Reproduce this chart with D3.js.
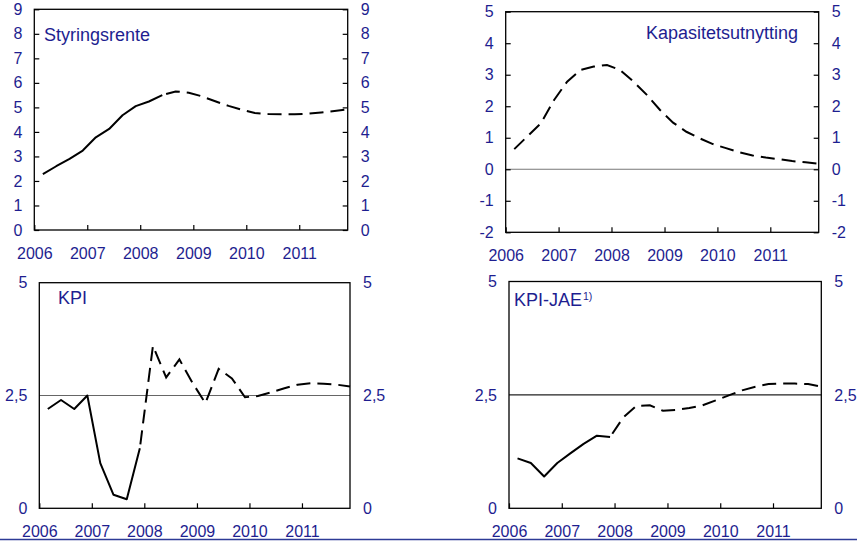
<!DOCTYPE html>
<html>
<head>
<meta charset="utf-8">
<script src="https://cdn.jsdelivr.net/npm/d3@7"></script>
<style>
  html, body { margin: 0; padding: 0; background: #fff; }
  svg { display: block; }
</style>
</head>
<body>
<script>
// quarterly figures 2006 Q1 - 2011 Q4, history drawn solid, projections dashed
const years = [2006, 2007, 2008, 2009, 2010, 2011];

const styringsrente = [2.28, 2.6, 2.9, 3.24, 3.78, 4.12, 4.68, 5.05, 5.24, 5.5, 5.65, 5.6,
                       5.45, 5.25, 5.06, 4.9, 4.77, 4.73, 4.72, 4.72, 4.74, 4.79, 4.85, 4.92];
const kapasitetsutnytting = [0.64, 1.05, 1.46, 2.2, 2.78, 3.15, 3.26, 3.31, 3.15, 2.78, 2.36, 1.88,
                             1.48, 1.19, 0.98, 0.8, 0.67, 0.54, 0.44, 0.37, 0.32, 0.26, 0.22, 0.18];
const kpi = [2.2, 2.4, 2.2, 2.5, 1.0, 0.3, 0.2, 1.33, 3.6, 2.9, 3.3, 2.78,
             2.33, 3.09, 2.88, 2.46, 2.49, 2.57, 2.66, 2.74, 2.77, 2.76, 2.74, 2.7];
const kpiJae = [1.1, 1.0, 0.7, 1.0, 1.21, 1.42, 1.6, 1.57, 2.0, 2.26, 2.27, 2.15,
                2.17, 2.21, 2.27, 2.38, 2.49, 2.6, 2.68, 2.74, 2.75, 2.75, 2.74, 2.68];

// index of last historical quarter in each series (-1 = all projection)
const lastHistory = { styringsrente: 9, kapasitetsutnytting: -1, kpi: 7, kpiJae: 7 };

const ticksOneToNine = [0, 1, 2, 3, 4, 5, 6, 7, 8, 9];
const ticksCapacity = [-2, -1, 0, 1, 2, 3, 4, 5];
const ticksInflation = [0, 2.5, 5];

const textColor = '#1e1e90';
const fontFamily = "'Liberation Sans', Arial, Helvetica, sans-serif";

// quarter dates (third month of each quarter, as on the original date axis)
const quarterDates = years.flatMap(yr => [2, 5, 8, 11].map(m => new Date(yr, m, 1)));

const panels = [
   { title: 'Styringsrente', values: styringsrente, last: lastHistory.styringsrente,
     left: 34.3, right: 347.7, top: 9.3, bottom: 230, yDomain: [0, 9], yTicks: ticksOneToNine,
     tickMarks: true, refLine: null, titleX: 44, titleY: 40.5, titleAnchor: 'start' },
   { title: 'Kapasitetsutnytting', values: kapasitetsutnytting, last: lastHistory.kapasitetsutnytting,
     left: 505.7, right: 818.7, top: 11.7, bottom: 232.3, yDomain: [-2, 5], yTicks: ticksCapacity,
     tickMarks: true, refLine: 0, refColor: '#777', titleX: 798, titleY: 38.5, titleAnchor: 'end' },
   { title: 'KPI', values: kpi, last: lastHistory.kpi,
     left: 39.3, right: 350, top: 282.7, bottom: 508.3, yDomain: [0, 5], yTicks: ticksInflation,
     tickMarks: false, refLine: 2.5, refColor: '#666', titleX: 58, titleY: 304, titleAnchor: 'start' },
   { title: 'KPI-JAE', sup: '1)', values: kpiJae, last: lastHistory.kpiJae,
     left: 509, right: 821.3, top: 281.5, bottom: 508.3, yDomain: [0, 5], yTicks: ticksInflation,
     tickMarks: false, refLine: 2.5, refColor: '#222', titleX: 514, titleY: 305.5, titleAnchor: 'start' }
];

const svg = d3.select('body').append('svg')
   .attr('width', 857)
   .attr('height', 542);

const fmtComma = d => String(d).replace('.', ',');

panels.forEach(drawPanel);

// thin blue rule along the bottom
svg.append('line')
   .attr('x1', 0).attr('x2', 857)
   .attr('y1', 539.5).attr('y2', 539.5)
   .attr('stroke', '#2d3b96')
   .attr('stroke-width', 1.5);

function drawPanel(p) {
   let x = d3.scaleTime()
      .domain([new Date(2006, 0, 1), new Date(2011, 11, 1)])
      .range([p.left, p.right]);
   let y = d3.scaleLinear()
      .domain(p.yDomain)
      .range([p.bottom, p.top]);

   let g = svg.append('g');

   if (p.refLine !== null) {
      g.append('line')
         .attr('x1', p.left).attr('x2', p.right)
         .attr('y1', y(p.refLine)).attr('y2', y(p.refLine))
         .attr('stroke', p.refColor)
         .attr('stroke-width', 1.2);
   }

   let xAxis = d3.axisBottom(x)
      .tickValues(years.map(yr => new Date(yr, 0, 1)))
      .tickFormat(d3.timeFormat('%Y'))
      .tickSizeInner(-5)
      .tickSizeOuter(0)
      .tickPadding(17.5);

   let yLeft = d3.axisLeft(y)
      .tickValues(p.yTicks)
      .tickFormat(fmtComma)
      .tickSizeInner(p.tickMarks ? -5 : 0)
      .tickSizeOuter(0)
      .tickPadding(12);

   let yRight = d3.axisRight(y)
      .tickValues(p.yTicks)
      .tickFormat(fmtComma)
      .tickSizeInner(p.tickMarks ? -5 : 0)
      .tickSizeOuter(0)
      .tickPadding(13);

   [[xAxis, `translate(0,${p.bottom})`], [yLeft, `translate(${p.left},0)`],
    [yRight, `translate(${p.right},0)`]].forEach(([axis, tr]) => {
      let a = g.append('g')
         .attr('transform', tr)
         .call(axis);
      a.select('.domain').remove();
      a.selectAll('line').attr('stroke', '#000').attr('stroke-width', 1.2);
      a.selectAll('text')
         .attr('fill', textColor)
         .style('font-family', fontFamily)
         .style('font-size', '16px');
   });

   // frame
   g.append('rect')
      .attr('x', p.left)
      .attr('y', p.top)
      .attr('width', p.right - p.left)
      .attr('height', p.bottom - p.top)
      .attr('fill', 'none')
      .attr('stroke', '#000')
      .attr('stroke-width', 1.3);

   let points = p.values.map((v, i) => ({ date: quarterDates[i], value: v }));
   let line = d3.line()
      .x(d => x(d.date))
      .y(d => y(d.value));

   if (p.last >= 0) {
      g.append('path')
         .datum(points.slice(0, p.last + 1))
         .attr('d', line)
         .attr('fill', 'none')
         .attr('stroke', '#000')
         .attr('stroke-width', 2)
         .attr('stroke-linejoin', 'round');
   }

   g.append('path')
      .datum(points.slice(Math.max(p.last, 0)))
      .attr('d', line)
      .attr('fill', 'none')
      .attr('stroke', '#000')
      .attr('stroke-width', 2)
      .attr('stroke-dasharray', '14,7')
      .attr('stroke-dashoffset', p.last >= 0 ? 17 : 0);

   let title = g.append('text')
      .attr('x', p.titleX)
      .attr('y', p.titleY)
      .attr('text-anchor', p.titleAnchor)
      .attr('fill', textColor)
      .style('font-family', fontFamily)
      .style('font-size', '18px')
      .text(p.title);

   if (p.sup) {
      title.append('tspan')
         .attr('dy', -6)
         .attr('dx', 1)
         .style('font-size', '10.5px')
         .text(p.sup);
   }
}
</script>
</body>
</html>
